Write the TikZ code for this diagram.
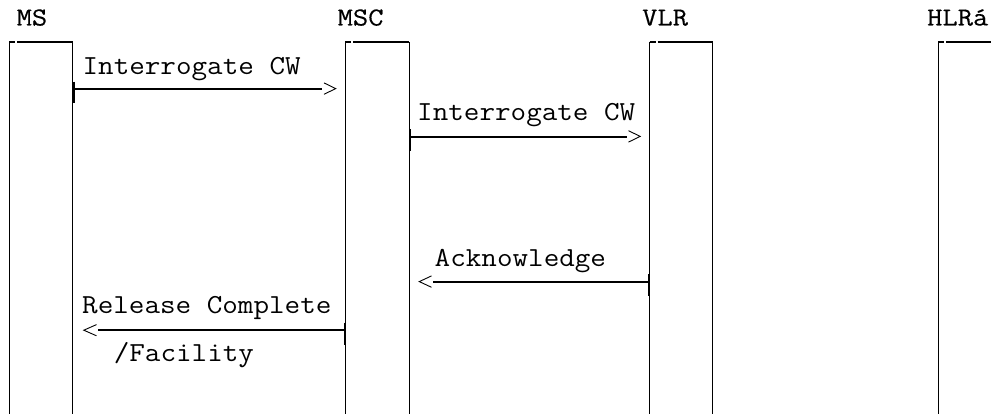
\documentclass[tikz,border=0pt]{standalone}
\usepackage{fontspec}
\usepackage{graphicx}
\newfontfamily\hdrfont[FakeBold=0.3]{Latin Modern Mono}
\newcommand\bodytext[1]{\scalebox{1.1}[1]{#1}}
\newcommand\headtext[1]{\scalebox{1.14}[1]{#1}}
\begin{document}
\begin{tikzpicture}[x=1pt,y=-1pt,
  life/.style={line width=1pt},
  boxtop/.style={line width=1.9pt},
  corner/.style={line width=1.5pt},
  msg/.style={line width=2pt},
  tickmark/.style={line width=1.4pt},
  chev/.style={line width=0.9pt,line join=miter},
  bodytxt/.style={anchor=base west,inner sep=0pt,font=\fontsize{27.5pt}{27.5pt}\selectfont\ttfamily},
  hdrtxt/.style={anchor=base west,inner sep=0pt,font=\fontsize{26pt}{26pt}\selectfont\hdrfont}]
\useasboundingbox (0,0) rectangle (991,414);
\fill[white] (0,0) rectangle (991,414);

% headers
\node[hdrtxt] (hMS)  at (16.5,25.5)  {\headtext{MS}};
\node[hdrtxt] (hMSC) at (337.5,25.5) {\headtext{MSC}};
\node[hdrtxt] (hVLR) at (642,25.5) {\headtext{VLR}};
\node[hdrtxt] (hHLR) at (927,25.5) {\headtext{HLRá}};

% lifeline boxes: top-left / top-right corners and bottoms
\coordinate (msL) at (9.3,42);   \coordinate (msR) at (72.7,42);
\coordinate (mscL) at (345.3,42); \coordinate (mscR) at (409.3,42);
\coordinate (vlrL) at (649.6,42); \coordinate (vlrR) at (712.7,42);
\coordinate (hlrL) at (938.3,42); \coordinate (hlrR) at (991,42);
\coordinate (msLb) at (9.3,414);   \coordinate (msRb) at (72.7,414);
\coordinate (mscLb) at (345.3,414); \coordinate (mscRb) at (409.3,414);
\coordinate (vlrLb) at (649.6,414); \coordinate (vlrRb) at (712.7,414);
\coordinate (hlrLb) at (938.3,414);

\foreach \a/\b in {msL/msLb,msR/msRb,mscL/mscLb,mscR/mscRb,vlrL/vlrLb,vlrR/vlrRb,hlrL/hlrLb}{
  \draw[life] (\a) -- (\b);
}
\foreach \l/\r in {msL/msR,mscL/mscR,vlrL/vlrR,hlrL/hlrR}{
  \draw[boxtop] (\l) -- ++(6,0);
  \draw[boxtop] (\l) ++(8,0) -- (\r);
  \draw[corner] ([yshift=-0.9pt]\l) -- ++(0,13.5);
}
\foreach \r in {msR,mscR,vlrR}{
  \draw[corner] ([yshift=-0.9pt]\r) -- ++(0,13.5);
}

% message 1: MS -> MSC
\node[bodytxt] (t1) at (82.4,74.5) {\bodytext{Interrogate CW}};
\coordinate (m1s) at (72.7,89.5); \coordinate (m1e) at (321.7,89.5);
\draw[tickmark] (74,81.7) -- (74,103.3);
\draw[msg] (m1s) -- (m1e);
\draw[chev] (m1e) ++(2.3,-6.6) -- ++(11.7,5.7) -- ++(-11.7,5.7);

% message 2: MSC -> VLR
\node[bodytxt] (t2) at (417,121) {\bodytext{Interrogate CW}};
\coordinate (m2s) at (409.3,137.3); \coordinate (m2e) at (627,137.3);
\draw[tickmark] (410.4,129.5) -- (410.4,151.3);
\draw[msg] (m2s) -- (m2e);
\draw[chev] (m2e) ++(1.5,-6.6) -- ++(11.7,5.7) -- ++(-11.7,5.7);

% message 3: VLR -> MSC
\node[bodytxt] (t3) at (434.5,266.7) {\bodytext{Acknowledge}};
\coordinate (m3s) at (649.6,282.3); \coordinate (m3e) at (433,282.3);
\draw[tickmark] (648.5,274.5) -- (648.5,296.3);
\draw[msg] (m3s) -- (m3e);
\draw[chev] (m3e) ++(-1.5,-6.4) -- ++(-12.2,5.7) -- ++(12.2,5.7);

% message 4: MSC -> MS
\node[bodytxt] (t4) at (82,313.3) {\bodytext{Release Complete}};
\node[bodytxt] (t5) at (113.6,361.5) {\bodytext{/Facility}};
\coordinate (m4s) at (345.3,330); \coordinate (m4e) at (98,330);
\draw[tickmark] (344.2,322.5) -- (344.2,345);
\draw[msg] (m4s) -- (m4e);
\draw[chev] (m4e) ++(-1.5,-5.4) -- ++(-12.7,5.6) -- ++(12.7,5.6);
\end{tikzpicture}
\end{document}
